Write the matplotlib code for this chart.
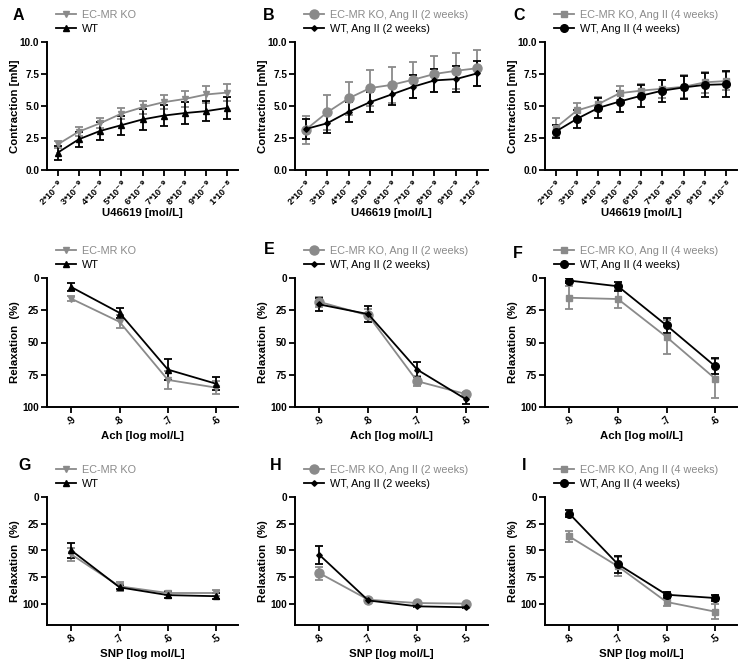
import numpy as np
import matplotlib.pyplot as plt
from matplotlib.lines import Line2D

plt.rcParams['font.family'] = ['Liberation Sans', 'DejaVu Sans']

GRAY = '#8a8a8a'

# ---- contraction (U46619) ----
u_labels = [r'2*10$^{\mathbf{-9}}$', r'3*10$^{\mathbf{-9}}$', r'4*10$^{\mathbf{-9}}$',
            r'5*10$^{\mathbf{-9}}$', r'6*10$^{\mathbf{-9}}$', r'7*10$^{\mathbf{-9}}$',
            r'8*10$^{\mathbf{-9}}$', r'9*10$^{\mathbf{-9}}$', r'1*10$^{\mathbf{-8}}$']

a_ko = [2.0, 3.0, 3.65, 4.4, 4.9, 5.3, 5.55, 5.9, 6.05]
a_ko_err = [0.3, 0.35, 0.4, 0.45, 0.5, 0.55, 0.6, 0.65, 0.65]
a_wt = [1.35, 2.4, 3.05, 3.5, 3.95, 4.25, 4.45, 4.6, 4.85]
a_wt_err = [0.55, 0.6, 0.7, 0.75, 0.8, 0.85, 0.85, 0.8, 0.85]

b_ko = [3.15, 4.5, 5.6, 6.4, 6.65, 7.05, 7.5, 7.75, 7.95]
b_ko_err = [1.1, 1.35, 1.3, 1.4, 1.4, 1.4, 1.4, 1.4, 1.4]
b_wt = [3.2, 3.65, 4.55, 5.3, 5.9, 6.5, 7.0, 7.1, 7.55]
b_wt_err = [0.8, 0.75, 0.8, 0.8, 0.85, 0.9, 0.9, 1.0, 0.95]

c_ko = [3.3, 4.65, 5.15, 6.0, 6.2, 6.35, 6.5, 6.85, 6.95]
c_ko_err = [0.75, 0.6, 0.55, 0.55, 0.5, 0.7, 0.9, 0.8, 0.7]
c_wt = [3.0, 4.0, 4.85, 5.35, 5.8, 6.2, 6.45, 6.65, 6.7]
c_wt_err = [0.5, 0.7, 0.75, 0.85, 0.85, 0.85, 0.9, 0.95, 1.0]

# ---- relaxation (Ach) ----
ach_labels = ['-9', '-8', '-7', '-6']
d_ko = [16, 34, 79, 85]
d_ko_err = [2, 5, 7, 5]
d_wt = [7, 27, 71, 82]
d_wt_err = [3, 4, 8, 5]

e_ko = [18.5, 29, 80, 90]
e_ko_err = [4, 5, 4, 2]
e_wt = [20.5, 28, 71, 94]
e_wt_err = [5, 6, 6, 4]

f_ko = [15.3, 16.3, 45.7, 78]
f_ko_err = [9, 7, 13, 15]
f_wt = [2, 6.4, 36.7, 68.4]
f_wt_err = [2, 3.5, 6, 6]

# ---- relaxation (SNP) ----
snp_labels = ['-8', '-7', '-6', '-5']
g_ko = [53.75, 83.75, 90, 90]
g_ko_err = [6, 4, 2, 3]
g_wt = [50, 84.7, 92, 93]
g_wt_err = [7, 2, 3, 3]

h_ko = [71.4, 96.3, 99.4, 100]
h_ko_err = [6, 1, 1, 1]
h_wt = [54.3, 97, 102.5, 103.4]
h_wt_err = [8.5, 1, 1, 1]

i_ko = [37, 65, 98.4, 107.5]
i_ko_err = [5, 9, 4, 7]
i_wt = [15.6, 63, 91.6, 94.7]
i_wt_err = [3, 8, 3, 3]

legends = [('EC-MR KO', 'WT'),
           ('EC-MR KO, Ang II (2 weeks)', 'WT, Ang II (2 weeks)'),
           ('EC-MR KO, Ang II (4 weeks)', 'WT, Ang II (4 weeks)')]
# marker style per column: (ko marker, ko size, wt marker, wt size)
markers = [('v', 4.5, '^', 4.5), ('o', 6.5, 'D', 2.8), ('s', 5, 'o', 5.5)]

fig = plt.figure(figsize=(7.45, 6.71), dpi=100)
W, H = 745, 671

def px_axes(l, t, r, b):
    return fig.add_axes([l / W, 1 - b / H, (r - l) / W, (b - t) / H])

lefts = [47, 295, 545]
rights = [238, 488, 737]
rows_tb = [(42, 170), (278, 407), (497, 625)]

panels = [
    [(a_ko, a_ko_err, a_wt, a_wt_err), (b_ko, b_ko_err, b_wt, b_wt_err), (c_ko, c_ko_err, c_wt, c_wt_err)],
    [(d_ko, d_ko_err, d_wt, d_wt_err), (e_ko, e_ko_err, e_wt, e_wt_err), (f_ko, f_ko_err, f_wt, f_wt_err)],
    [(g_ko, g_ko_err, g_wt, g_wt_err), (h_ko, h_ko_err, h_wt, h_wt_err), (i_ko, i_ko_err, i_wt, i_wt_err)],
]
letters = [['A', 'B', 'C'], ['', 'E', 'F'], ['G', 'H', 'I']]
letter_pos = [[(13, 16), (263, 16), (513, 16)],
              [(14, 250), (264, 250), (513, 253)],
              [(18, 465), (270, 466), (522, 466)]]

for r in range(3):
    for c in range(3):
        t, b = rows_tb[r]
        ax = px_axes(lefts[c], t, rights[c], b)
        ko, ko_e, wt, wt_e = panels[r][c]
        x = np.arange(len(ko))
        km, ks, wm, ws = markers[c]
        ax.errorbar(x, ko, yerr=ko_e, color=GRAY, marker=km, ms=ks, lw=1.3,
                    elinewidth=1.3, capsize=3, capthick=1.3)
        ax.errorbar(x, wt, yerr=wt_e, color='black', marker=wm, ms=ws, lw=1.3,
                    elinewidth=1.3, capsize=3, capthick=1.3)
        for s in ['top', 'right']:
            ax.spines[s].set_visible(False)
        for s in ['left', 'bottom']:
            ax.spines[s].set_linewidth(1.4)
        ax.tick_params(width=1.3, length=4, labelsize=7.2, pad=1.5)

        if r == 0:
            ax.set_xlim(-0.5, 8.5)
            ax.set_ylim(0, 10)
            ax.set_yticks([0, 2.5, 5, 7.5, 10])
            ax.set_yticklabels(['0.0', '2.5', '5.0', '7.5', '10.0'], fontweight='bold')
            ax.set_xticks(x)
            ax.set_xticklabels(u_labels, rotation=45, ha='right', rotation_mode='anchor',
                               fontweight='bold', fontsize=6.6)
            ax.set_ylabel('Contraction [mN]', fontweight='bold', fontsize=8.2, labelpad=0)
            ax.set_xlabel('U46619 [mol/L]', fontweight='bold', fontsize=8.2, labelpad=0)
        else:
            ax.set_xlim(-0.5, 3.45)
            if r == 1:
                ax.set_ylim(100, 0)
                xl, xlab = ach_labels, 'Ach [log mol/L]'
            else:
                ax.set_ylim(120, 0)
                xl, xlab = snp_labels, 'SNP [log mol/L]'
            ax.set_yticks([0, 25, 50, 75, 100])
            ax.set_yticklabels(['0', '25', '50', '75', '100'], fontweight='bold')
            ax.set_xticks(x)
            ax.set_xticklabels(xl, rotation=45, ha='right', rotation_mode='anchor',
                               fontweight='bold', fontsize=7)
            ax.set_ylabel('Relaxation  (%)', fontweight='bold', fontsize=8.2, labelpad=2)
            ax.set_xlabel(xlab, fontweight='bold', fontsize=8.2, labelpad=2)

        handles = [Line2D([], [], color=GRAY, marker=km, ms=ks, lw=1.3),
                   Line2D([], [], color='black', marker=wm, ms=ws, lw=1.3)]
        leg = ax.legend(handles, legends[c], loc='lower left', bbox_to_anchor=(0.02, 1.02),
                        frameon=False, fontsize=7.8, handlelength=1.8, handletextpad=0.6,
                        borderaxespad=0.1, labelspacing=0.35)
        leg.get_texts()[0].set_color(GRAY)
        if letters[r][c]:
            lx, ly = letter_pos[r][c]
            fig.text(lx / W, 1 - ly / H, letters[r][c], fontsize=11.5, fontweight='bold',
                     va='center', ha='left')

fig.savefig('out.png', dpi=100)
